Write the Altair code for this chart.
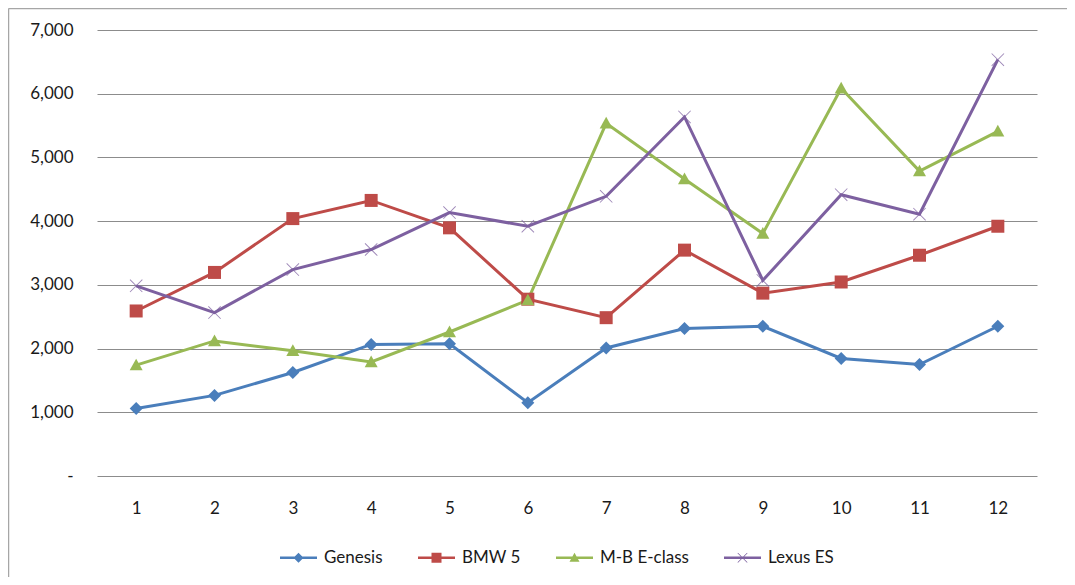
import altair as alt
import pandas as pd

months = list(range(1, 13))
series_names = ["Genesis", "BMW 5", "M-B E-class", "Lexus ES"]
genesis = [1060, 1265, 1625, 2065, 2075, 1150, 2010, 2315, 2350, 1845, 1750, 2350]
bmw5 = [2590, 3195, 4040, 4325, 3895, 2775, 2485, 3545, 2870, 3045, 3465, 3920]
mb_eclass = [1740, 2120, 1965, 1790, 2260, 2760, 5535, 4660, 3805, 6085, 4785, 5410]
lexus_es = [2985, 2565, 3240, 3555, 4135, 3920, 4390, 5635, 3070, 4415, 4110, 6535]
y_ticks = [0, 1000, 2000, 3000, 4000, 5000, 6000, 7000]

colors = ["#4A7EBB", "#BE4B48", "#98B954", "#7D60A0"]
marker_opacity = [1, 1, 1, 0.75]

# marker shapes (unit space)
DIAMOND = "M0,-1L1,0L0,1L-1,0Z"
SQUARE = "M-1,-1H1V1H-1Z"
TRIANGLE = "M0,-1L1,0.8L-1,0.8Z"
XMARK = "M-1,-0.9L-0.9,-1L1,0.9L0.9,1Z M0.9,-1L1,-0.9L-0.9,1L-1,0.9Z"
marker_paths = [DIAMOND, SQUARE, TRIANGLE, XMARK]

# legend symbols: line segment + marker
LINE = "M-3.7,-0.25H3.7V0.25H-3.7Z "
legend_paths = [LINE + p for p in marker_paths]

rows = []
for name, vals, mk, op in zip(series_names, [genesis, bmw5, mb_eclass, lexus_es], marker_paths, marker_opacity):
    for m, v in zip(months, vals):
        rows.append({"month": m, "series": name, "sales": v, "marker": mk, "mop": op})
df = pd.DataFrame(rows)

color_scale = alt.Scale(domain=series_names, range=colors)

legend = alt.Legend(
    title=None,
    orient="none",
    direction="horizontal",
    legendX=193,
    legendY=519,
    padding=0,
    symbolSize=100,
    symbolStrokeWidth=0,
    symbolOpacity=1,
    labelOffset=17,
    columnPadding=35,
    labelFont="Lato",
    labelFontSize=17,
    labelColor="#1a1a1a",
)

x_enc = alt.X(
    "month:O",
    title=None,
    scale=alt.Scale(padding=0.5),
    axis=alt.Axis(labelAngle=0, ticks=False, tickSize=0, domain=False, labelPadding=24),
)
y_enc = alt.Y(
    "sales:Q",
    title=None,
    scale=alt.Scale(domain=[0, 7000]),
    axis=alt.Axis(
        values=y_ticks,
        ticks=False,
        tickSize=0,
        domain=False,
        labelPadding=24,
        gridColor="#8c8c8c",
        gridWidth=1,
        labelExpr="datum.value == 0 ? '-' : format(datum.value, ',')",
    ),
)

base = alt.Chart(df)

lines = base.mark_line(strokeWidth=3).encode(
    x=x_enc, y=y_enc, color=alt.Color("series:N", scale=color_scale, legend=None)
)
points = base.mark_point(filled=True, size=169).encode(
    x=x_enc,
    y=y_enc,
    color=alt.Color("series:N", scale=color_scale, legend=None),
    shape=alt.Shape("marker:N", scale=None),
    opacity=alt.Opacity("mop:Q", scale=None, legend=None),
)
legend_layer = base.transform_filter("false").mark_point(filled=True, size=100, opacity=1).encode(
    x=x_enc,
    y=y_enc,
    color=alt.Color("series:N", scale=color_scale, legend=legend),
    shape=alt.Shape("series:N", scale=alt.Scale(domain=series_names, range=legend_paths), legend=legend),
)

frame_df = pd.DataFrame({"k": [0]})
frame_top = alt.Chart(frame_df).mark_rule(color="#a6a6a6", strokeWidth=1.5).encode(
    x=alt.value(-88.5), x2=alt.value(970), y=alt.value(-21.5)
)
frame_left = alt.Chart(frame_df).mark_rule(color="#a6a6a6", strokeWidth=1.5).encode(
    x=alt.value(-88.5), y=alt.value(-21.5), y2=alt.value(547)
)

chart = (
    alt.layer(lines, points, legend_layer, frame_top, frame_left)
    .resolve_scale(color="independent", shape="independent")
    .properties(
        width=940,
        height=446,
        autosize=alt.AutoSizeParams(type="none"),
        padding={"left": 89, "top": 22, "right": 30, "bottom": 101},
    )
    .configure_view(stroke=None)
    .configure_axis(labelFont="Lato", labelFontSize=17, labelColor="#1a1a1a", grid=True)
    .configure_axisX(grid=False)
)

chart.save("out.html", embed_options={"renderer": "svg", "actions": False})
